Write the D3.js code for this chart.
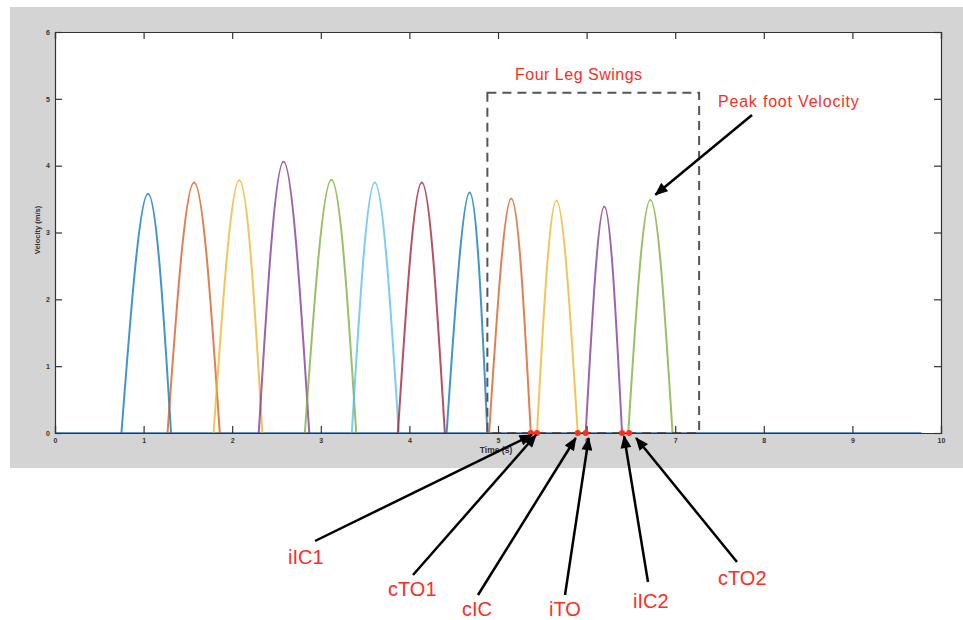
<!DOCTYPE html>
<html>
<head>
<meta charset="utf-8">
<title>Foot velocity - four leg swings</title>
<script src="https://cdn.jsdelivr.net/npm/d3@7"></script>
<style>
    body { margin: 0; background: #fff; }
    svg { display: block; font-family: "Liberation Sans", Arial, Helvetica, sans-serif; }
    .tick text { fill: #333; font-size: 7px; font-weight: bold; }
    .tick line { stroke: #333; }
</style>
</head>
<body>

<svg width="963" height="620"></svg>

<script>

    // swings: start / peak time / peak value / end (s, m/s)
    var swingStart    = [0.75, 1.27, 1.79, 2.30, 2.82, 3.35, 3.87, 4.42, 4.90, 5.44, 5.99, 6.47];
    var swingPeakTime = [1.05, 1.57, 2.08, 2.58, 3.12, 3.61, 4.14, 4.68, 5.15, 5.66, 6.20, 6.72];
    var swingPeak     = [3.58, 3.75, 3.78, 4.06, 3.79, 3.75, 3.75, 3.60, 3.51, 3.48, 3.39, 3.49];
    var swingEnd      = [1.31, 1.86, 2.34, 2.87, 3.40, 3.88, 4.40, 4.88, 5.37, 5.90, 6.40, 6.97];
    var baselineEnd = 9.78;

    // gait events (red dots on the zero line)
    var eventNames = ["iIC1", "cTO1", "cIC", "iTO", "iIC2", "cTO2"];
    var eventTimes = [5.37, 5.44, 5.90, 5.99, 6.40, 6.48];

    // dashed box round the four leg swings
    var boxT0 = 4.88, boxT1 = 7.27, boxTop = 5.09;

    var xTicks = [0, 1, 2, 3, 4, 5, 6, 7, 8, 9, 10];
    var yTicks = [0, 1, 2, 3, 4, 5, 6];

    var matlab = ["#0072BD", "#D95319", "#EDB120", "#7E2F8E", "#77AC30", "#4DBEEE", "#A2142F"];

    var svg = d3.select("svg");
    var plotL = 55, plotR = 941, plotT = 32, plotB = 433;

    var x = d3.scaleLinear().domain([0, 10]).range([plotL, plotR]);
    var y = d3.scaleLinear().domain([0, 6]).range([plotB, plotT]);

    // grey figure background + white axes
    svg.append("rect").attr("x", 10).attr("y", 7).attr("width", 953).attr("height", 461).attr("fill", "#d4d4d4");
    svg.append("rect").attr("x", plotL).attr("y", plotT).attr("width", plotR - plotL).attr("height", plotB - plotT).attr("fill", "#fff");

    var line = d3.line()
        .x(function(d) { return x(d[0]); })
        .y(function(d) { return y(d[1]); });

    // zero line of the velocity signal
    svg.append("path")
        .datum([[0, 0], [baselineEnd, 0]])
        .attr("d", line)
        .attr("fill", "none")
        .attr("stroke", "#6796c2")
        .attr("stroke-width", 2.2);

    var swings = swingStart.map(function(s, i) {
        return [[s, 0], [swingPeakTime[i], swingPeak[i]], [swingEnd[i], 0]];
    });

    svg.append("g").selectAll("path")
        .data(swings)
        .enter().append("path")
            .attr("d", line.curve(d3.curveNatural))
            .attr("fill", "none")
            .attr("stroke", function(d, i) { return matlab[i % 7]; })
            .attr("stroke-opacity", 0.75)
            .attr("stroke-width", 2);

    // dashed box
    svg.append("rect")
        .attr("x", x(boxT0))
        .attr("y", y(boxTop))
        .attr("width", x(boxT1) - x(boxT0))
        .attr("height", y(0) - y(boxTop))
        .attr("fill", "none")
        .attr("stroke", "#555")
        .attr("stroke-width", 2)
        .attr("stroke-dasharray", "9,6");

    // axes, MATLAB style: ticks inside, box on
    var tl = 7;
    var fmt = d3.format("d");
    svg.append("g").attr("transform", "translate(0," + plotB + ")")
        .call(d3.axisBottom(x).tickValues(xTicks).tickFormat(fmt).tickSize(-tl).tickPadding(5));
    svg.append("g").attr("transform", "translate(0," + plotT + ")")
        .call(d3.axisTop(x).tickValues(xTicks).tickSize(-tl).tickFormat(""));
    svg.append("g").attr("transform", "translate(" + plotL + ",0)")
        .call(d3.axisLeft(y).tickValues(yTicks).tickFormat(fmt).tickSize(-tl).tickPadding(5));
    svg.append("g").attr("transform", "translate(" + plotR + ",0)")
        .call(d3.axisRight(y).tickValues(yTicks).tickSize(-tl).tickFormat(""));
    svg.selectAll(".domain").attr("stroke", "#333").attr("stroke-width", 1.2);
    svg.selectAll(".tick line").attr("stroke-width", 1.2);

    svg.append("text")
        .attr("x", x(5) - 2).attr("y", plotB + 20)
        .attr("text-anchor", "middle")
        .attr("font-size", 8.5).attr("font-weight", "bold").attr("fill", "#333")
        .text("Time (s)");
    svg.append("text")
        .attr("transform", "translate(40," + 230 + ") rotate(-90)")
        .attr("text-anchor", "middle")
        .attr("font-size", 7.5).attr("font-weight", "bold").attr("fill", "#333")
        .text("Velocity (m/s)");

    // event dots
    svg.append("g").selectAll("circle")
        .data(eventTimes)
        .enter().append("circle")
            .attr("cx", function(d) { return x(d); })
            .attr("cy", y(0))
            .attr("r", 3)
            .attr("fill", "#ff2d1e");

    // arrows
    svg.append("defs").append("marker")
        .attr("id", "head")
        .attr("viewBox", "0 0 12 10")
        .attr("refX", 11).attr("refY", 5)
        .attr("markerWidth", 14).attr("markerHeight", 11)
        .attr("markerUnits", "userSpaceOnUse")
        .attr("orient", "auto")
      .append("path")
        .attr("d", "M0,0L12,5L0,10Z")
        .attr("fill", "#000");

    // label placement (px) and arrow tail / tip offset from its dot
    var labelX = [288, 388, 462, 549, 633, 718];
    var labelY = [564, 596, 616, 616, 608, 585];
    var tailX = [315, 413, 478, 565, 648, 737];
    var tailY = [541, 575, 595, 595, 582, 562];
    var tipDx = [1, -1, -2, 3, 2, 7];
    var tipDy = [2, 2, 5, 5, 3, 5];

    var red = "#ff2d1e";

    eventNames.forEach(function(name, i) {
        svg.append("line")
            .attr("x1", tailX[i]).attr("y1", tailY[i])
            .attr("x2", x(eventTimes[i]) + tipDx[i]).attr("y2", y(0) + tipDy[i])
            .attr("stroke", "#000").attr("stroke-width", 2.5)
            .attr("marker-end", "url(#head)");
        svg.append("text")
            .attr("x", labelX[i]).attr("y", labelY[i])
            .attr("font-size", 20).attr("fill", red)
            .text(name);
    });

    // peak foot velocity arrow points at the last swing's peak
    var last = swingPeak.length - 1;
    svg.append("line")
        .attr("x1", 752).attr("y1", 115)
        .attr("x2", x(swingPeakTime[last]) + 5).attr("y2", y(swingPeak[last]) - 5)
        .attr("stroke", "#000").attr("stroke-width", 2.5)
        .attr("marker-end", "url(#head)");

    svg.append("text")
        .attr("x", 515).attr("y", 79.5)
        .attr("font-size", 16).attr("letter-spacing", 0.5).attr("fill", red)
        .text("Four Leg Swings");
    svg.append("text")
        .attr("x", 718).attr("y", 106.5)
        .attr("font-size", 16).attr("letter-spacing", 0.8).attr("fill", red)
        .text("Peak foot Velocity");

</script>

</body>
</html>
